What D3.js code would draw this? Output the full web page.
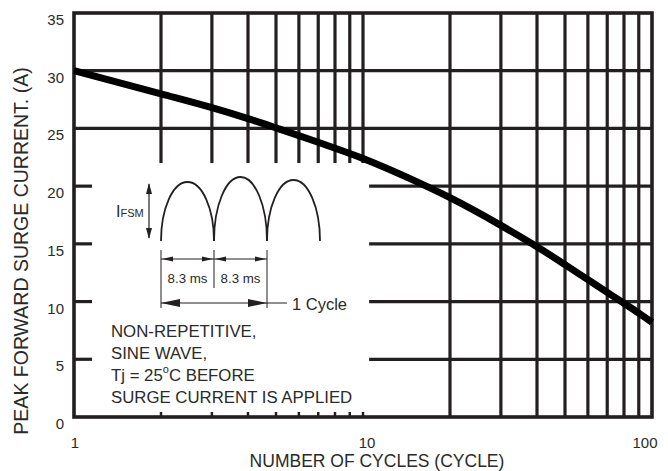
<!DOCTYPE html>
<html>
<head>
<meta charset="utf-8">
<script src="https://cdn.jsdelivr.net/npm/d3@7"></script>
<style>
  html, body { margin: 0; padding: 0; background: #fff; }
  svg { display: block; font-family: "Liberation Sans", Arial, sans-serif; }
</style>
</head>
<body>
<svg id="chart" width="668" height="471"></svg>
<script>
// surge curve
const cycles = [1, 2, 3, 4, 5, 7, 10, 15, 20, 30, 40, 50, 60, 70, 80, 90, 100];
const surgeAmps = [30, 28.0, 26.8, 25.85, 25.05, 23.8, 22.4, 20.5, 19.0, 16.6, 14.75, 13.2, 11.9, 10.8, 9.85, 9.0, 8.2];

const yTicks = [0, 5, 10, 15, 20, 25, 30, 35];
const xTickLabels = [1, 10, 100];
const firstDecade = [2, 3, 4, 5, 6, 7, 8, 9, 10];
const secondDecade = [20, 30, 40, 50, 60, 70, 80, 90];
const fullRows = [25, 30];
const lowerRows = [5, 10, 15, 20];

const noteLines = ["NON-REPETITIVE,", "SINE WAVE,", null, "SURGE CURRENT IS APPLIED"];

const ink = "#231f20";
const svg = d3.select("#chart");

const margin = { left: 74, right: 16, top: 13, bottom: 54 };
const W = 668, H = 471;

const x = d3.scaleLog()
  .domain([1, 100])
  .range([margin.left, W - margin.right]);

const y = d3.scaleLinear()
  .domain([0, 35])
  .range([H - margin.bottom, margin.top]);

// the grid is broken where the inset drawing sits
const upperFloor = 22;   // first-decade verticals stop here (A)
const lowerStart = 10.5; // lower horizontals start here (cycles)

const grid = svg.append("g")
  .attr("stroke", ink)
  .attr("stroke-width", 3.2);

grid.selectAll("line.v1")
  .data(firstDecade)
  .join("line")
  .attr("class", "v1")
  .attr("x1", (d) => x(d)).attr("x2", (d) => x(d))
  .attr("y1", y(35)).attr("y2", y(upperFloor));

grid.selectAll("line.v2")
  .data(secondDecade)
  .join("line")
  .attr("class", "v2")
  .attr("x1", (d) => x(d)).attr("x2", (d) => x(d))
  .attr("y1", y(35)).attr("y2", y(0));

grid.selectAll("line.h1")
  .data(fullRows)
  .join("line")
  .attr("class", "h1")
  .attr("x1", x(1)).attr("x2", x(100))
  .attr("y1", (d) => y(d)).attr("y2", (d) => y(d));

grid.selectAll("line.h2")
  .data(lowerRows)
  .join("line")
  .attr("class", "h2")
  .attr("x1", x(lowerStart)).attr("x2", x(100))
  .attr("y1", (d) => y(d)).attr("y2", (d) => y(d));

// short stubs on the left axis
grid.selectAll("line.stub")
  .data(lowerRows)
  .join("line")
  .attr("class", "stub")
  .attr("x1", x(1)).attr("x2", x(1) + 18)
  .attr("y1", (d) => y(d)).attr("y2", (d) => y(d));

// little ticks on the bottom axis
grid.selectAll("line.btick")
  .data(firstDecade)
  .join("line")
  .attr("class", "btick")
  .attr("stroke-width", 2.5)
  .attr("x1", (d) => x(d)).attr("x2", (d) => x(d))
  .attr("y1", y(0)).attr("y2", y(0) - 5);

svg.append("rect")
  .attr("x", x(1)).attr("y", y(35))
  .attr("width", x(100) - x(1))
  .attr("height", y(0) - y(35))
  .attr("fill", "none")
  .attr("stroke", ink)
  .attr("stroke-width", 3.6);

// axis labels
svg.append("g")
  .selectAll("text")
  .data(yTicks)
  .join("text")
  .attr("x", 64)
  .attr("y", (d) => y(d) + 12)
  .attr("text-anchor", "end")
  .attr("font-size", 15)
  .attr("fill", "#2a2a2a")
  .text((d) => d);

const xShift = { 1: 1, 10: 4, 100: -7 };
svg.append("g")
  .selectAll("text")
  .data(xTickLabels)
  .join("text")
  .attr("x", (d) => x(d) + xShift[d])
  .attr("y", 447.5)
  .attr("text-anchor", "middle")
  .attr("font-size", 15)
  .attr("fill", "#2a2a2a")
  .text((d) => d);

svg.append("text")
  .attr("x", 377)
  .attr("y", 467)
  .attr("text-anchor", "middle")
  .attr("font-size", 17.5)
  .attr("fill", "#2a2a2a")
  .text("NUMBER OF CYCLES (CYCLE)");

svg.append("text")
  .attr("transform", "translate(28,251) rotate(-90)")
  .attr("text-anchor", "middle")
  .attr("font-size", 19.5)
  .attr("fill", "#2a2a2a")
  .text("PEAK FORWARD SURGE CURRENT. (A)");

// the curve
const line = d3.line()
  .x((d, i) => x(cycles[i]))
  .y((d) => y(d))
  .curve(d3.curveMonotoneX);

svg.append("path")
  .datum(surgeAmps)
  .attr("d", line)
  .attr("fill", "none")
  .attr("stroke", "#000")
  .attr("stroke-width", 7)
  .attr("stroke-linecap", "butt");

// note text
const note = svg.append("g")
  .attr("font-size", 16.8)
  .attr("fill", "#2a2a2a");

note.selectAll("text.line")
  .data(noteLines)
  .join("text")
  .attr("class", "line")
  .attr("x", 111)
  .attr("y", (d, i) => [337, 359, 381, 403][i])
  .text((d) => d || "");

const tj = note.append("text").attr("x", 111).attr("y", 381);
tj.append("tspan").text("Tj = 25");
tj.append("tspan").attr("font-size", 11).attr("dy", -8).text("o");
tj.append("tspan").attr("dy", 8).text("C BEFORE");

// inset: half-sine sketch with dimensions
const inset = svg.append("g")
  .attr("stroke", ink)
  .attr("fill", "none");

const baseY = 241;
const arcs = [[161, 214, 59], [214, 267, 64], [267, 320, 61]];
inset.selectAll("path.arc")
  .data(arcs)
  .join("path")
  .attr("class", "arc")
  .attr("stroke-width", 1.8)
  .attr("d", (a) => `M${a[0]},${baseY} A${(a[1] - a[0]) / 2},${a[2]} 0 0 1 ${a[1]},${baseY}`);

function arrowHead(g, tipX, tipY, dir, len, half) {
  // dir: "l", "r", "u", "d"
  let pts;
  if (dir === "l") pts = [[tipX, tipY], [tipX + len, tipY - half], [tipX + len, tipY + half]];
  if (dir === "r") pts = [[tipX, tipY], [tipX - len, tipY - half], [tipX - len, tipY + half]];
  if (dir === "u") pts = [[tipX, tipY], [tipX - half, tipY + len], [tipX + half, tipY + len]];
  if (dir === "d") pts = [[tipX, tipY], [tipX - half, tipY - len], [tipX + half, tipY - len]];
  g.append("path")
    .attr("d", "M" + pts.map((p) => p.join(",")).join("L") + "Z")
    .attr("fill", ink)
    .attr("stroke", "none");
}

// IFSM arrow
inset.append("line")
  .attr("x1", 149).attr("x2", 149).attr("y1", 184).attr("y2", 238)
  .attr("stroke-width", 1.2);
arrowHead(inset, 149, 183, "u", 11, 3);
arrowHead(inset, 149, 239, "d", 11, 3);

const ifsm = svg.append("text")
  .attr("x", 116).attr("y", 217)
  .attr("fill", "#2a2a2a")
  .attr("font-size", 16);
ifsm.append("tspan").text("I");
ifsm.append("tspan").attr("font-size", 11).text("FSM");

// extension lines
inset.append("line").attr("x1", 161).attr("x2", 161).attr("y1", 250).attr("y2", 308).attr("stroke-width", 1);
inset.append("line").attr("x1", 214).attr("x2", 214).attr("y1", 250).attr("y2", 288).attr("stroke-width", 1);
inset.append("line").attr("x1", 267).attr("x2", 267).attr("y1", 250).attr("y2", 308).attr("stroke-width", 1);

// 8.3 ms dimension arrows
[[161, 214], [214, 267]].forEach(([a, b]) => {
  inset.append("line").attr("x1", a).attr("x2", b).attr("y1", 259).attr("y2", 259).attr("stroke-width", 1);
  arrowHead(inset, a + 1, 259, "l", 11, 2.5);
  arrowHead(inset, b - 1, 259, "r", 11, 2.5);
});

svg.append("g")
  .attr("font-size", 13.3)
  .attr("fill", "#2a2a2a")
  .attr("text-anchor", "middle")
  .selectAll("text")
  .data([187.5, 240.5])
  .join("text")
  .attr("x", (d) => d)
  .attr("y", 283)
  .text("8.3 ms");

// 1 cycle arrow
inset.append("line").attr("x1", 161).attr("x2", 287).attr("y1", 303).attr("y2", 303).attr("stroke-width", 1.2);
arrowHead(inset, 161, 303, "l", 19, 4);
arrowHead(inset, 267, 303, "r", 19, 4);

svg.append("text")
  .attr("x", 292).attr("y", 310)
  .attr("font-size", 16.5)
  .attr("fill", "#2a2a2a")
  .text("1 Cycle");
</script>
</body>
</html>
